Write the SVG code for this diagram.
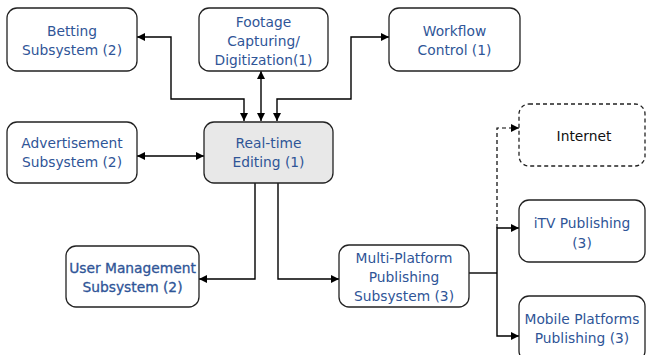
<svg xmlns="http://www.w3.org/2000/svg" width="646" height="355" viewBox="0 0 646 355">
<defs>
<marker id="ah" viewBox="0 0 10 10" refX="10" refY="5" markerWidth="8" markerHeight="8" orient="auto-start-reverse" markerUnits="userSpaceOnUse">
<path d="M0,0 L10,5 L0,10 z" fill="#000"/>
</marker>
<style>
.box{fill:#fff;stroke:#222;stroke-width:1.3}
.hub{fill:#e8e8e8;stroke:#222;stroke-width:1.3}
.dash{fill:#fff;stroke:#222;stroke-width:1.3;stroke-dasharray:4 3}
text{font-family:"DejaVu Sans","Liberation Sans",sans-serif;font-size:13.8px;fill:#2f5597;text-anchor:middle}
.blk{fill:#111}
.c{fill:none;stroke:#000;stroke-width:1.4}
.cd{fill:none;stroke:#000;stroke-width:1.2;stroke-dasharray:4 3}
</style>
</defs>
<g id="connectors">
<path class="c" d="M244,121 V99 H171 V37 H137" marker-start="url(#ah)" marker-end="url(#ah)"/>
<path class="c" d="M261,121 V71" marker-start="url(#ah)" marker-end="url(#ah)"/>
<path class="c" d="M277,121 V99 H351 V37 H389" marker-start="url(#ah)" marker-end="url(#ah)"/>
<path class="c" d="M137,156 H204" marker-start="url(#ah)" marker-end="url(#ah)"/>
<path class="c" d="M255,183 V279 H199" marker-end="url(#ah)"/>
<path class="c" d="M278,183 V279 H339" marker-end="url(#ah)"/>
<path class="c" d="M469,273 H497"/>
<path class="c" d="M497,273 V228 H519" marker-end="url(#ah)"/>
<path class="c" d="M497,273 V336 H519" marker-end="url(#ah)"/>
<path class="cd" d="M497,228 V128 H519" marker-end="url(#ah)"/>
</g>
<g id="betting"><rect class="box" x="7" y="8" width="130" height="63" rx="10"/><text x="72" y="36">Betting</text><text x="72" y="55">Subsystem (2)</text></g>
<g id="footage"><rect class="box" x="199" y="8" width="129" height="63" rx="10"/><text x="263.5" y="27">Footage</text><text x="263.5" y="46">Capturing/</text><text x="263.5" y="65">Digitization(1)</text></g>
<g id="workflow"><rect class="box" x="389" y="8" width="131" height="63" rx="10"/><text x="454.5" y="36">Workflow</text><text x="454.5" y="55">Control (1)</text></g>
<g id="advertisement"><rect class="box" x="7" y="122" width="130" height="61" rx="10"/><text x="72" y="148">Advertisement</text><text x="72" y="167">Subsystem (2)</text></g>
<g id="realtime"><rect class="hub" x="204" y="122" width="129" height="61" rx="10"/><text x="268.5" y="148">Real-time</text><text x="268.5" y="167">Editing (1)</text></g>
<g id="usermgmt"><rect class="box" x="66" y="246" width="133" height="61" rx="10"/><text x="132.5" y="273" style="stroke:#2f5597;stroke-width:0.3">User Management</text><text x="132.5" y="292" style="stroke:#2f5597;stroke-width:0.3">Subsystem (2)</text></g>
<g id="multiplatform"><rect class="box" x="339" y="245" width="130" height="62" rx="10"/><text x="404" y="263">Multi-Platform</text><text x="404" y="282">Publishing</text><text x="404" y="301">Subsystem (3)</text></g>
<g id="internet"><rect class="dash" x="519" y="104" width="126" height="62" rx="10"/><text class="blk" x="584" y="141">Internet</text></g>
<g id="itv"><rect class="box" x="519" y="200" width="126" height="62" rx="10"/><text x="582" y="228">iTV Publishing</text><text x="582" y="248">(3)</text></g>
<g id="mobile"><rect class="box" x="519" y="296" width="126" height="65" rx="10"/><text x="582" y="324">Mobile Platforms</text><text x="582" y="343">Publishing (3)</text></g>
</svg>
